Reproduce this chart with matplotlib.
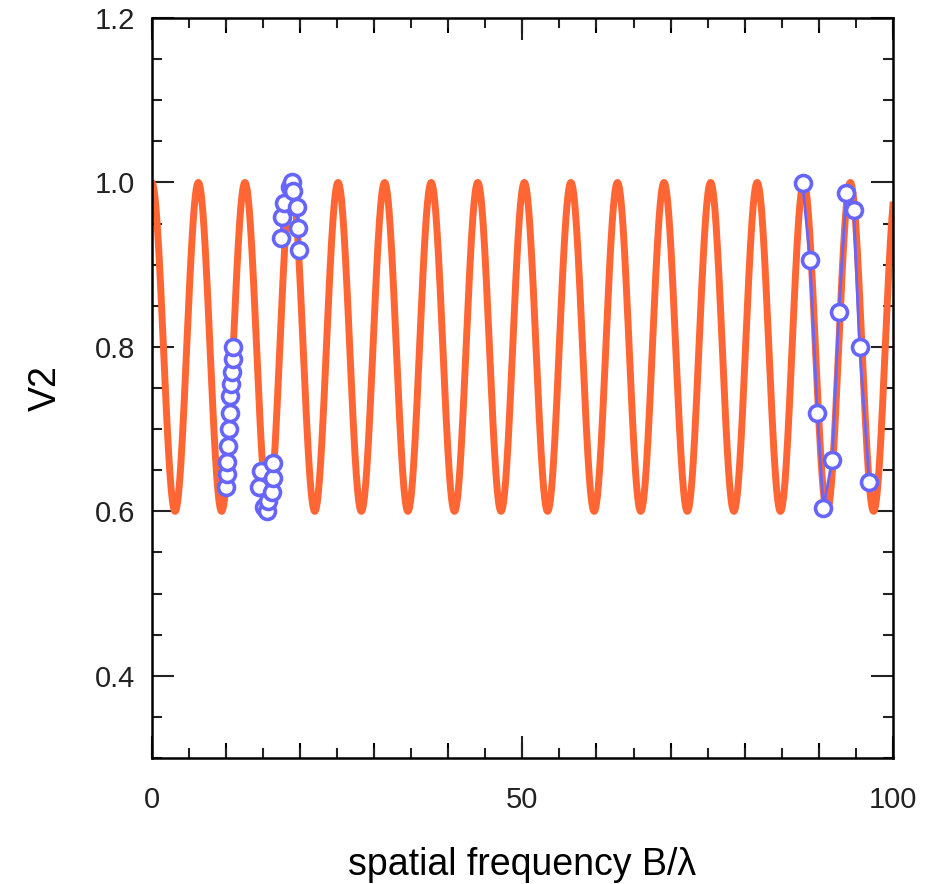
import numpy as np
import matplotlib
matplotlib.use("Agg")
import matplotlib.pyplot as plt
from matplotlib.ticker import MultipleLocator, FixedLocator, NullFormatter

plt.rcParams['font.family'] = ['Liberation Sans', 'DejaVu Sans']

# model curve V2 = mean + amp * cos(2*pi*f/period)
model_mean = 0.8
model_amp = 0.2
model_period = 2 * np.pi
freq_range = (0, 100)

# measured points, three groups at low frequency and one at high
g1_x = [10.0, 10.1, 10.2, 10.3, 10.4, 10.5, 10.6, 10.7, 10.8, 10.9, 11.0]
g1_y = [0.63, 0.645, 0.66, 0.68, 0.70, 0.72, 0.74, 0.755, 0.77, 0.785, 0.80]

g2_x = [14.4, 14.8, 15.1, 15.6, 15.7, 16.2, 16.3, 16.4]
g2_y = [0.630, 0.649, 0.605, 0.600, 0.612, 0.623, 0.641, 0.659]

g3_x = [17.4, 17.6, 17.8, 18.6, 18.9, 19.0, 19.6, 19.7, 19.9]
g3_y = [0.932, 0.958, 0.975, 0.995, 1.0, 0.99, 0.97, 0.945, 0.918]

g4_x = [87.8, 88.8, 89.8, 90.6, 91.8, 92.7, 93.7, 94.7, 95.5, 96.8]
g4_y = [0.999, 0.906, 0.720, 0.604, 0.662, 0.843, 0.987, 0.966, 0.800, 0.636]

orange = '#ff6633'
blue = '#6666ff'

fig = plt.figure(figsize=(9.37, 8.84), dpi=100)
ax = fig.add_axes([0.162, 0.1425, 0.791, 0.8371])

f = np.linspace(freq_range[0], freq_range[1], 2000)
ax.plot(f, model_mean + model_amp * np.cos(2 * np.pi * f / model_period),
        color=orange, lw=5, zorder=2)

for gx, gy in [(g1_x, g1_y), (g2_x, g2_y), (g3_x, g3_y), (g4_x, g4_y)]:
    ax.plot(gx, gy, color=blue, lw=2, marker='o', ms=11.5, mfc='white',
            mec=blue, mew=2.6, zorder=3)

ax.set_xlim(0, 100)
ax.set_ylim(0.3, 1.2)

ax.xaxis.set_major_locator(FixedLocator([0, 50, 100]))
ax.xaxis.set_minor_locator(MultipleLocator(5))
ax.yaxis.set_major_locator(FixedLocator([0.4, 0.6, 0.8, 1.0, 1.2]))
ax.yaxis.set_minor_locator(MultipleLocator(0.05))
ax.tick_params(which='both', direction='in', top=True, right=True, width=1.5,
               labelsize=21, colors='#222222')
ax.tick_params(axis='x', pad=20)
ax.tick_params(axis='y', pad=12)
ax.tick_params(which='major', length=16)
ax.tick_params(which='minor', length=7)

# medium ticks every 10 on both x edges
for loc in ('bottom', 'top'):
    sec = ax.secondary_xaxis(loc)
    sec.xaxis.set_major_locator(MultipleLocator(10))
    sec.xaxis.set_major_formatter(NullFormatter())
    sec.tick_params(direction='in', length=11, width=1.5)
    sec.spines[loc].set_visible(False)

for s in ax.spines.values():
    s.set_linewidth(1.8)

ax.set_xlabel('spatial frequency B/\u03bb', fontsize=27, labelpad=24)
ax.set_ylabel('V2', fontsize=27, labelpad=22)

fig.savefig('out.png', dpi=100)
